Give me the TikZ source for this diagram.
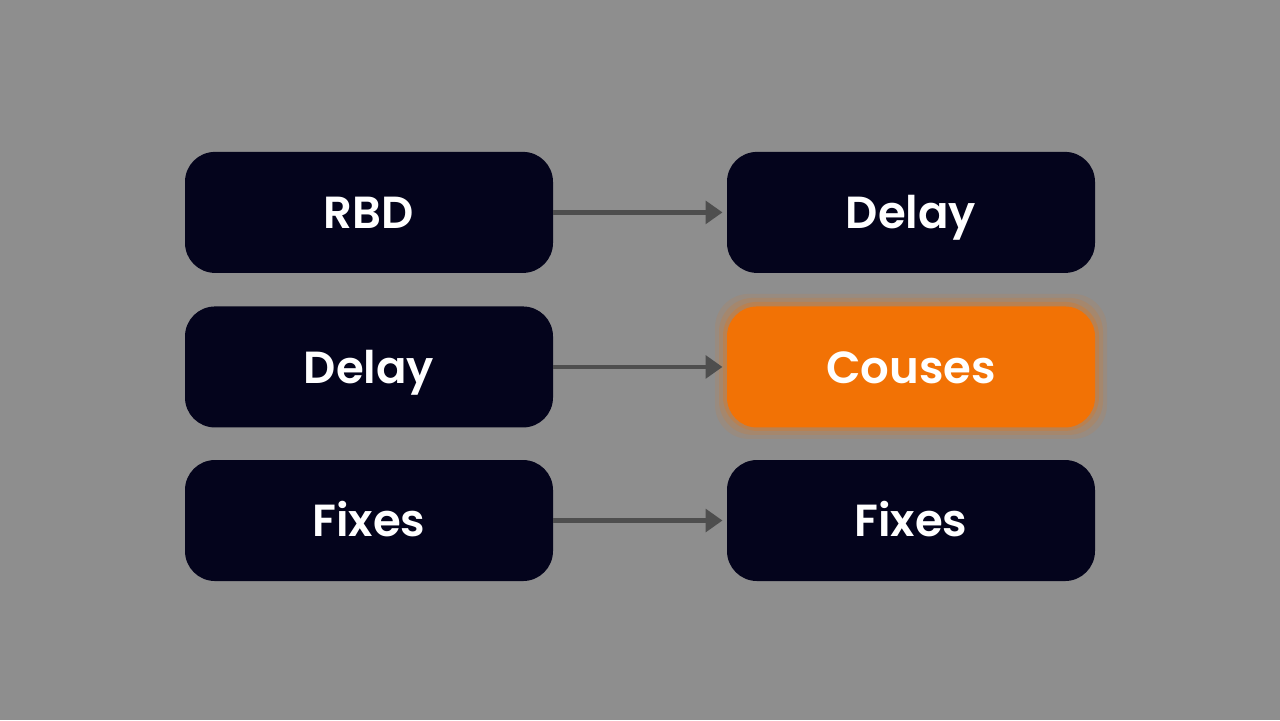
\documentclass[tikz,border=0pt]{standalone}
\usepackage{fontspec}
\setmainfont{Poppins}[BoldFont={Poppins SemiBold}]
\usetikzlibrary{positioning,arrows.meta}
\definecolor{bgGrey}{HTML}{8E8E8E}
\definecolor{boxNavy}{HTML}{04041C}
\definecolor{causeOrange}{HTML}{F27205}
\definecolor{arrowGrey}{HTML}{4E4E4E}
\begin{document}
\begin{tikzpicture}
			\tikzset{stage/.style={rectangle,rounded corners=0.75cm,fill=boxNavy,text=white,minimum width=9.2cm,minimum height=3.025cm,text height=0.92cm,text depth=0.1cm,font=\fontsize{32}{36}\selectfont\bfseries}}
			\tikzset{hot/.style={stage,fill=causeOrange}}
			\tikzset{link/.style={draw=arrowGrey,line width=3.2pt,-{Triangle[length=12pt,width=16pt]},shorten >=3pt}}
			\fill[bgGrey] (0,0) rectangle (32,18);
			\node[stage] (rbd) at (9.225,12.69) {RBD};
			\node[stage,below=0.825cm of rbd] (delay) {Delay};
			\node[stage,below=0.8cm of delay] (fixes) {Fixes};
			% glow round the orange box
			\foreach \g/\o in {0.3/0.1,0.2/0.15,0.1/0.25}
				\fill[causeOrange,opacity=\o,rounded corners=0.85cm] (18.175-\g,7.3275-\g) rectangle (27.375+\g,10.3525+\g);
			\node[stage] (delayR) at (22.775,12.69) {Delay};
			\node[hot,below=0.825cm of delayR] (couses) {Couses};
			\node[stage,below=0.8cm of couses] (fixesR) {Fixes};
			\draw[link] (rbd) -- (delayR);
			\draw[link] (delay) -- (couses);
			\draw[link] (fixes) -- (fixesR);
		\end{tikzpicture}
\end{document}
